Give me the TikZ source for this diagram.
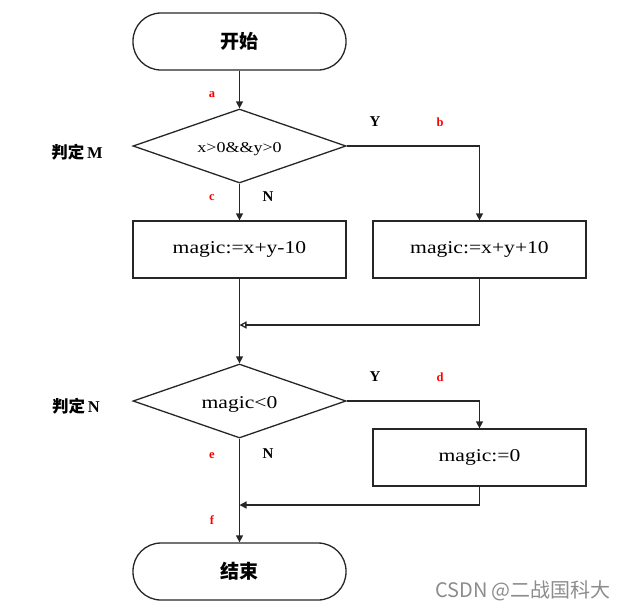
\documentclass[tikz,border=0pt]{standalone}
\usepackage{fontspec}
\setmainfont{Liberation Serif}
\newfontfamily\cjk{Noto Sans CJK SC}
\usetikzlibrary{shapes.geometric,arrows.meta}
\newcommand\sx[1]{\scalebox{1.2}[1]{#1}}
\definecolor{wm}{HTML}{8C8C8C}
\definecolor{lbl}{HTML}{FF0000}
\begin{document}
\begin{tikzpicture}[x=1pt,y=-1pt,
  line width=1.3pt,
  term/.style={draw=black!85,rounded corners=28pt,minimum width=213pt,minimum height=57pt,inner sep=0pt,font=\fontsize{19}{19}\selectfont},
  boxn/.style={draw=black!85,minimum width=213pt,minimum height=57pt,inner sep=0pt,font=\fontsize{18}{18}\selectfont},
  dec/.style={draw=black!85,shape=diamond,aspect=2.88,minimum width=213pt,minimum height=74pt,inner sep=0pt},
  dtext/.style={inner sep=0pt},
  arr/.style={draw=black!85,-{Triangle[width=7pt,length=7pt]}},
  oarr/.style={draw=black!85,-{Triangle[open,width=7pt,length=7pt]}},
  plain/.style={draw=black!85},
  red/.style={text=lbl,font=\fontsize{12.5}{12.5}\selectfont\bfseries},
  yn/.style={font=\fontsize{15}{15}\selectfont\bfseries},
  side/.style={font=\fontsize{16.5}{16.5}\selectfont\bfseries}
]
\useasboundingbox (0,0) rectangle (631,611);
\node[term] (start) at (239.5,41.5) {\cjk\bfseries 开始};
\node[dec] (dm) at (239.5,146) {};
\node[dtext,font=\fontsize{15}{15}\selectfont] (dmt) at (239.5,149) {\sx{x>0\&\&y>0}};
\node[boxn] (b1) at (239.5,249.5) {\sx{magic:=x+y-10}};
\node[boxn] (b2) at (479.5,249.5) {\sx{magic:=x+y+10}};
\coordinate (m1) at (239.5,325);
\node[dec] (dn) at (239.5,401) {};
\node[dtext,font=\fontsize{18}{18}\selectfont] (dnt) at (239.5,404) {\sx{magic<0}};
\node[boxn] (b3) at (479.5,457.5) {\sx{magic:=0}};
\coordinate (m2) at (239.5,505);
\node[term] (end) at (239.5,571.5) {\cjk\bfseries 结束};

\draw[arr] (start) -- (dm);
\draw[arr] (dm) -- (b1);
\draw[arr] (dm.east) -| (b2.north);
\draw[plain] (b1.south) -- (m1);
\draw[arr] (m1) -- (dn.north);
\draw[oarr] (b2.south) |- (m1);
\draw[arr] (dn.east) -| (b3.north);
\draw[plain] (dn.south) -- (m2);
\draw[arr] (m2) -- (end.north);
\draw[arr] (b3.south) |- (m2);

\node[red] (la) at (212,95) {a};
\node[red] (lb) at (440,122) {b};
\node[red] (lc) at (212,198) {c};
\node[red] (ld) at (440,377) {d};
\node[red] (le) at (212,456) {e};
\node[red] (lf) at (212,520) {f};
\node[yn] (y1) at (375,122) {Y};
\node[yn] (n1) at (268,197) {N};
\node[yn] (y2) at (375,377) {Y};
\node[yn] (n2) at (268,454) {N};
\node[side] (jm) at (77,152) {{\cjk\bfseries 判定}\,M};
\node[side] (jn) at (76,406) {{\cjk\bfseries 判定}\,N};
\node[text=wm,font=\cjk\fontsize{20}{20}\selectfont] (wmk) at (523,591) {CSDN @二战国科大};
\end{tikzpicture}
\end{document}
